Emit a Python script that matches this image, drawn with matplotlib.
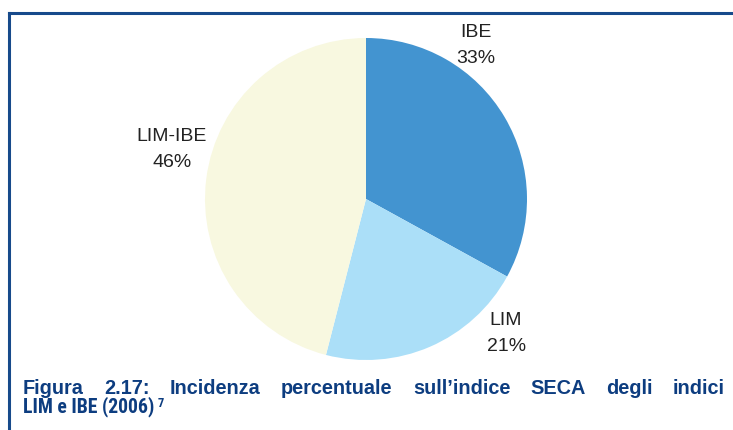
import matplotlib
matplotlib.use('Agg')
import matplotlib.pyplot as plt

labels = ['IBE', 'LIM', 'LIM-IBE']
shares = [33, 21, 46]
colors = ['#4394d0', '#abdff8', '#f8f8e0']
# where each label sits, in pie radius units
label_pos = [(0.68, 0.955), (0.87, -0.835), (-1.205, 0.31)]

caption_1 = 'Figura 2.17: Incidenza percentuale sull\u2019indice SECA degli indici'
caption_2 = 'LIM e IBE (2006)'
note = '7'

W, H = 733, 430
fig = plt.figure(figsize=(W / 100, H / 100), dpi=100)

# frame: top and left lines
blue = '#174a8b'
fig.add_artist(plt.Line2D([9 / W, 1], [1 - 13 / H, 1 - 13 / H], color=blue, lw=2.2))
fig.add_artist(plt.Line2D([9 / W, 9 / W], [0, 1 - 13 / H], color=blue, lw=2.2))

# pie
cx, cy, r = 366, 199, 161
ax = fig.add_axes([(cx - r) / W, (H - cy - r) / H, 2 * r / W, 2 * r / H])
ax.pie(shares, colors=colors, startangle=90, counterclock=False,
       wedgeprops=dict(linewidth=0))
ax.set_xlim(-1, 1)
ax.set_ylim(-1, 1)
ax.set_aspect('equal')
ax.axis('off')

for lab, val, (x, y) in zip(labels, shares, label_pos):
    ax.text(x, y, '%s\n%d%%' % (lab, val), ha='center', va='center',
            fontsize=14, color='#222222', family=['Liberation Sans', 'DejaVu Sans'],
            linespacing=1.7)

# caption, first line justified word by word (it is letter-spaced in the
# original, so a wider face stands in for it)
cap_font = dict(family=['Liberation Sans', 'DejaVu Sans'], weight='bold',
                fontsize=14.3, color='#0d3d80')
cond_font = dict(family=['Roboto Condensed', 'DejaVu Sans'], stretch='condensed',
                 weight='bold', fontsize=14.2, color='#0d3d80')
left, right = 23 / W, 725 / W
words = caption_1.split(' ')
texts = [fig.text(0, 1 - 393.5 / H, w, ha='left', va='baseline', **cap_font) for w in words]
fig.canvas.draw()
rend = fig.canvas.get_renderer()
widths = [t.get_window_extent(rend).width / W for t in texts]
gap = (right - left - sum(widths)) / (len(words) - 1)
x = left
for t, w in zip(texts, widths):
    t.set_x(x)
    x += w + gap

t2 = fig.text(left, 1 - 412.5 / H, caption_2, ha='left', va='baseline', **cond_font)
w2 = t2.get_window_extent(rend).width / W
sup = dict(cond_font)
sup['fontsize'] = 9
fig.text(left + w2 + 3 / W, 1 - 407 / H, note, ha='left', va='baseline', **sup)

fig.savefig('out.png', dpi=100)
